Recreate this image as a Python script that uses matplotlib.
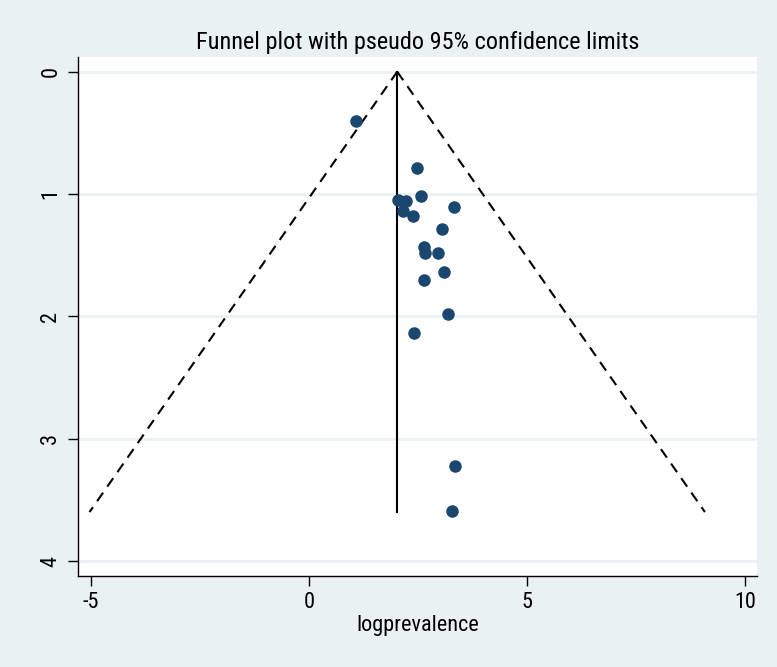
import numpy as np
import matplotlib
matplotlib.use("Agg")
import matplotlib.pyplot as plt

# Data
logprev = [1.08, 2.48, 2.57, 2.04, 2.22, 3.33, 2.16, 2.39, 3.05, 2.64, 2.66, 2.96,
           3.10, 2.64, 3.19, 2.41, 3.35, 3.28]
se = [0.40, 0.79, 1.02, 1.05, 1.06, 1.11, 1.14, 1.18, 1.29, 1.43, 1.48, 1.48,
      1.64, 1.70, 1.98, 2.14, 3.22, 3.59]
pooled = 2.02
max_se = 3.6
xticks = [-5, 0, 5, 10]
yticks = [0, 1, 2, 3, 4]
title = "Funnel plot with pseudo 95% confidence limits"
xlabel = "logprevalence"

bg = "#EAF1F3"
navy = "#1A476F"

plt.rcParams['font.family'] = ['Roboto Condensed', 'Liberation Sans', 'DejaVu Sans']
plt.rcParams['axes.unicode_minus'] = False

fig = plt.figure(figsize=(7.77, 6.67), dpi=100, facecolor=bg)
ax = fig.add_axes([78/777, 1 - 575.7/667, (757-78)/777, (575.7-57)/667])
ax.set_facecolor("white")

# funnel limits
se_line = np.array([0.0, max_se])
ax.plot(pooled - 1.96*se_line, se_line, color="black", lw=1.5, ls=(0, (5, 3.5)), zorder=2)
ax.plot(pooled + 1.96*se_line, se_line, color="black", lw=1.5, ls=(0, (5, 3.5)), zorder=2)
ax.plot([pooled, pooled], [0, max_se], color="black", lw=1.5, zorder=2)

ax.plot(logprev, se, 'o', color=navy, markersize=8, zorder=3)

ax.set_xlim(-5.3, 10.27)
ax.set_ylim(4.12, -0.12)
ax.set_xticks(xticks)
ax.set_yticks(yticks)
ax.yaxis.grid(True, color=bg, lw=2)
ax.set_axisbelow(True)
for s in ["top", "right"]:
    ax.spines[s].set_visible(False)
for s in ["left", "bottom"]:
    ax.spines[s].set_linewidth(1.0)
ax.tick_params(axis='both', direction='out', length=7, width=1, labelsize=16, pad=5)
for lab in ax.get_yticklabels():
    lab.set_rotation(90)
    lab.set_va('center')
ax.set_xlabel(xlabel, fontsize=16, labelpad=1)
ax.set_title(title, fontsize=17.5, pad=6)

fig.savefig("out.png", dpi=100, facecolor=bg)
